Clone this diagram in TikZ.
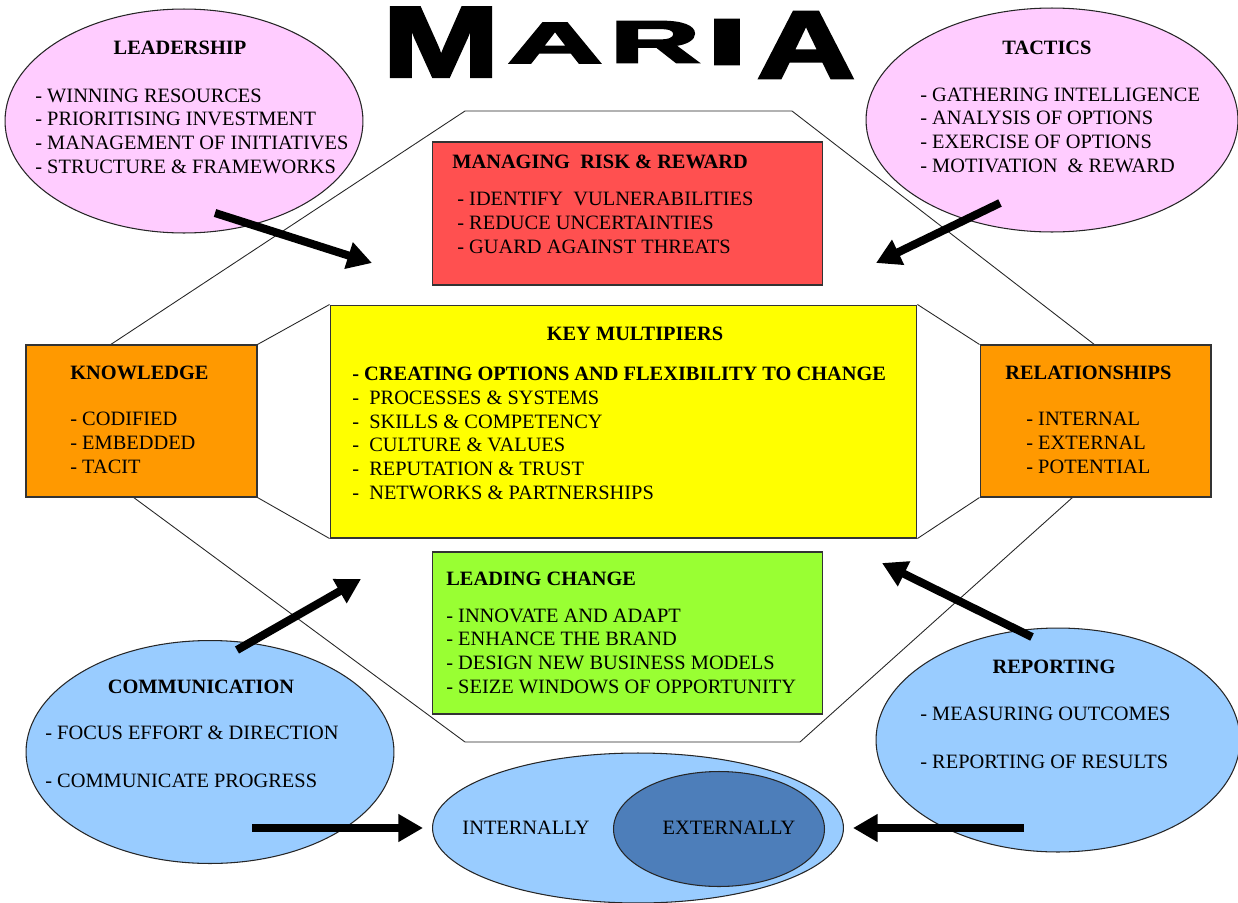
\documentclass[tikz,border=0pt]{standalone}
\usepackage{fontspec}
\setmainfont{Liberation Serif}
\newfontfamily\titlefont{Liberation Sans Bold}[FakeBold=3]
\usepackage{graphicx}
\usetikzlibrary{arrows.meta,shapes.geometric}
\definecolor{pinkov}{HTML}{FFCCFF}
\definecolor{riskred}{HTML}{FF5050}
\definecolor{keyyel}{HTML}{FFFF00}
\definecolor{chgreen}{HTML}{99FF33}
\definecolor{orbox}{HTML}{FF9900}
\definecolor{ltblue}{HTML}{99CCFF}
\definecolor{dkblue}{HTML}{4D7EBA}

\begin{document}
\begin{tikzpicture}[x=0.02cm,y=-0.02cm,
  font=\fontsize{11.6}{13.45}\selectfont,
  bx/.style={draw=black!80,line width=0.6pt,fill=#1,inner sep=0pt},
  ov/.style={ellipse,draw=black!85,line width=0.6pt,fill=#1,inner sep=0pt},
  hd/.style={font=\fontsize{11.6}{13.45}\selectfont\bfseries,inner sep=0pt,anchor=base},
  ls/.style={align=left,inner sep=0pt,anchor=base west},
  arr/.style={line width=4.6pt,-{Triangle[length=14pt,width=15pt]}}]
  \useasboundingbox (0,0) rectangle (1238,903);
  % title
  \foreach \ch/\cx/\cy/\w/\h [count=\i] in {M/441/42/2.34/1.38,A/555/43/1.9/0.8,
      R/655/42/1.8/0.82,I/727/42/0.82/0.9,A/806/45/1.96/1.32}
    \node[inner sep=0pt] (ttl\i) at (\cx,\cy) {\resizebox{\w cm}{\h cm}{\titlefont \ch}};
  % outline
  \draw[black!85,line width=0.5pt] (465,111) -- (792,111) -- (1095,345) -- (1073,497)
    -- (800,742) -- (465,742) -- (133,497) -- (110,345) -- cycle;
  % boxes
  \node[bx=riskred,minimum width=7.82cm,minimum height=2.86cm] (risk) at (627.5,213.5) {};
  \node[bx=keyyel,minimum width=11.74cm,minimum height=4.66cm] (key) at (623.5,421.5) {};
  \node[bx=chgreen,minimum width=7.82cm,minimum height=3.24cm] (chg) at (627.5,633) {};
  \node[bx=orbox,minimum width=4.62cm,minimum height=3.04cm] (know) at (141.5,421) {};
  \node[bx=orbox,minimum width=4.62cm,minimum height=3.04cm] (rel) at (1095.5,421) {};
  \draw[black!85,line width=0.5pt] (know.north east) -- (key.north west)
    (know.south east) -- (key.south west) (rel.north west) -- (key.north east)
    (rel.south west) -- (key.south east);
  % ellipses
  \node[ov=pinkov,minimum width=7.16cm,minimum height=4.48cm] (lead) at (184,121) {};
  \node[ov=pinkov,minimum width=7.44cm,minimum height=4.48cm] (tact) at (1052,120) {};
  \node[ov=ltblue,minimum width=7.36cm,minimum height=4.46cm] (comm) at (210,752) {};
  \node[ov=ltblue,minimum width=7.28cm,minimum height=4.48cm] (rep) at (1058,740) {};
  \node[ov=ltblue,minimum width=8.22cm,minimum height=3.0cm] (inout) at (638,828) {};
  \node[ov=dkblue,minimum width=4.22cm,minimum height=2.3cm] (ext) at (719,829) {};
  % texts (list nodes sit on the baseline of their last line)
  \node[hd] (leadH) at (180,54) {LEADERSHIP};
  \node[ls] (leadL) at (35,173) {- WINNING RESOURCES\\- PRIORITISING INVESTMENT\\
    - MANAGEMENT OF INITIATIVES\\- STRUCTURE \& FRAMEWORKS};
  \node[hd] (tactH) at (1047,54) {TACTICS};
  \node[ls] (tactL) at (920,172) {- GATHERING INTELLIGENCE\\- ANALYSIS OF OPTIONS\\
    - EXERCISE OF OPTIONS\\- MOTIVATION\ \ \& REWARD};
  \node[hd,anchor=base west] (riskH) at (452,168) {MANAGING\ \ RISK \& REWARD};
  \node[ls] (riskL) at (457,253) {- IDENTIFY\ \ VULNERABILITIES\\- REDUCE UNCERTAINTIES\\
    - GUARD AGAINST THREATS};
  \node[hd] (keyH) at (635,340) {KEY MULTIPIERS};
  \node[ls] (keyL) at (352,499) {\textbf{- CREATING OPTIONS AND FLEXIBILITY TO CHANGE}\\
    -\ \ PROCESSES \& SYSTEMS\\-\ \ SKILLS \& COMPETENCY\\-\ \ CULTURE \& VALUES\\
    -\ \ REPUTATION \& TRUST\\-\ \ NETWORKS \& PARTNERSHIPS};
  \node[hd,anchor=base west] (knowH) at (70,379) {KNOWLEDGE};
  \node[ls] (knowL) at (70,473) {- CODIFIED\\- EMBEDDED\\- TACIT};
  \node[hd,anchor=base west] (relH) at (1005,379) {RELATIONSHIPS};
  \node[ls] (relL) at (1026,473) {- INTERNAL\\- EXTERNAL\\- POTENTIAL};
  \node[hd,anchor=base west] (chgH) at (446,585) {LEADING CHANGE};
  \node[ls] (chgL) at (446,693) {- INNOVATE AND ADAPT\\- ENHANCE THE BRAND\\
    - DESIGN NEW BUSINESS MODELS\\- SEIZE WINDOWS OF OPPORTUNITY};
  \node[hd] (commH) at (201,693) {COMMUNICATION};
  \node[ls] (commL) at (45,787) {- FOCUS EFFORT \& DIRECTION\\[13.45pt]- COMMUNICATE PROGRESS};
  \node[hd] (repH) at (1054,673) {REPORTING};
  \node[ls] (repL) at (920,768) {- MEASURING OUTCOMES\\[13.45pt]- REPORTING OF RESULTS};
  \node[inner sep=0pt] (intT) at (526,828) {INTERNALLY};
  \node[inner sep=0pt] (extT) at (729,828) {EXTERNALLY};
  % arrows
  \coordinate (a1) at (215,213); \coordinate (b1) at (372,263);
  \coordinate (a2) at (1000,203); \coordinate (b2) at (876,263);
  \coordinate (a3) at (237,650); \coordinate (b3) at (361,579);
  \coordinate (a4) at (1032,637); \coordinate (b4) at (882,563);
  \coordinate (a5) at (252,828); \coordinate (b5) at (423,828);
  \coordinate (a6) at (1024,828); \coordinate (b6) at (853,828);
  \foreach \i in {1,...,6}
    \draw[arr] (a\i) -- (b\i);
\end{tikzpicture}
\end{document}
